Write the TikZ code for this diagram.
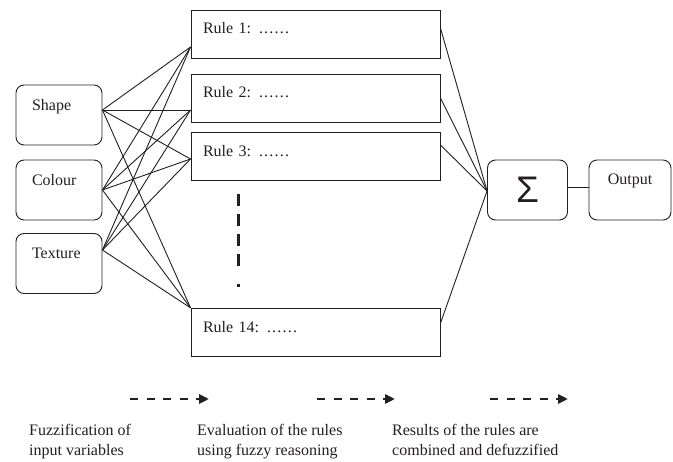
\documentclass[tikz,border=0pt]{standalone}
\usepackage{fontspec}
\setmainfont{Liberation Serif}
\newfontfamily\sigmafont{Liberation Sans}
\usetikzlibrary{arrows.meta}
\definecolor{ink}{HTML}{231F20}
\newcommand{\ruledots}{.\kern1.2pt.\kern1.2pt.\kern1.2pt.\kern1.2pt.\kern1.2pt.}
\begin{document}
\begin{tikzpicture}[x=1pt,y=-1pt,
  every node/.style={font=\fontsize{16}{20}\selectfont, text=ink},
  inbox/.style={draw=ink, line width=0.9pt, rounded corners=8pt, inner ysep=0pt,
    inner xsep=16pt, text width=54pt, align=left, text height=25.5pt, text depth=34.5pt},
  rulebox/.style={draw=ink, line width=0.9pt, inner ysep=0pt, inner xsep=12pt,
    text width=225pt, align=left, text height=24pt, text depth=24pt},
  outbox/.style={draw=ink, line width=0.9pt, rounded corners=8pt, inner sep=0pt,
    minimum width=80pt, minimum height=60pt},
  wire/.style={draw=ink, line width=0.9pt},
  flowarrow/.style={draw=ink, line width=2.6pt, dash pattern=on 8pt off 8.5pt,
    -{Triangle[length=10pt,width=9pt]}},
  caption/.style={anchor=north west, inner sep=0pt, align=left}
]
\useasboundingbox (0,0) rectangle (673,462);

% input boxes
\node[inbox] (shape) at (59,115) {Shape};
\node[inbox] (colour) at (59,190) {Colour};
\node[inbox] (texture) at (59,263.5) {Texture};

% rule boxes
\node[rulebox] (r1) at (315.5,34) {Rule 1: \ruledots};
\node[rulebox] (r2) at (315.5,98) {Rule 2: \ruledots};
\node[rulebox] (r3) at (315.5,156.5) {Rule 3: \ruledots};
\node[rulebox] (r14) at (315.5,332.3) {Rule 14: \ruledots};

% sum and output
\node[outbox] (sum) at (527.5,190) {\sigmafont\fontsize{37}{37}\selectfont Σ};
\node[outbox, minimum width=82pt, inner sep=0pt, text height=24.5pt, text depth=35.5pt,
  minimum height=0pt] (out) at (630,190) {Output};

% anchor points
\coordinate (sh-o) at ([yshift=5pt]shape.east);
\coordinate (co-o) at (colour.east);
\coordinate (tx-o) at ([yshift=13.5pt]texture.east);
\coordinate (r1-i) at ([yshift=-13pt]r1.west);
\coordinate (r2-i) at ([yshift=-12pt]r2.west);
\coordinate (r3-i) at ([yshift=-2.5pt]r3.west);
\coordinate (r14-i) at (r14.north west);
\coordinate (r1-o) at ([yshift=6pt]r1.east);
\coordinate (r2-o) at (r2.east);
\coordinate (r3-o) at ([yshift=11.5pt]r3.east);
\coordinate (r14-o) at ([yshift=9pt]r14.east);
\coordinate (sum-i) at ([yshift=-1pt]sum.west);

% input -> rule wires
\foreach \a in {sh-o,co-o,tx-o}{
  \foreach \b in {r1-i,r2-i,r3-i,r14-i}{
    \draw[wire] (\a) -- (\b);
  }
}
% rule -> sum wires
\foreach \b in {r1-o,r2-o,r3-o,r14-o}{
  \draw[wire] (\b) -- (sum-i);
}
\draw[wire] ([yshift=3pt]sum.east) -- ([yshift=3pt]out.west);

% vertical ellipsis dashes
\coordinate (vd-a) at (238,194);
\coordinate (vd-b) at (238,287);
\draw[ink, line width=3pt, dash pattern=on 12pt off 8pt on 12pt off 8pt on 12pt off 8pt on 12pt off 18pt on 3pt off 10pt] (vd-a) -- (vd-b);

% flow arrows
\coordinate (fa1) at (130,399); \coordinate (fb1) at (209,399);
\coordinate (fa2) at (317,399); \coordinate (fb2) at (395,399);
\coordinate (fa3) at (490,399); \coordinate (fb3) at (568,399);
\draw[flowarrow] (fa1) -- (fb1);
\draw[flowarrow] (fa2) -- (fb2);
\draw[flowarrow] (fa3) -- (fb3);

% captions
\node[caption] (c1) at (29,424) {Fuzzification of\\input variables};
\node[caption] (c2) at (197,424) {Evaluation of the rules\\using fuzzy reasoning};
\node[caption] (c3) at (392,424) {Results of the rules are\\combined and defuzzified};
\end{tikzpicture}
\end{document}
